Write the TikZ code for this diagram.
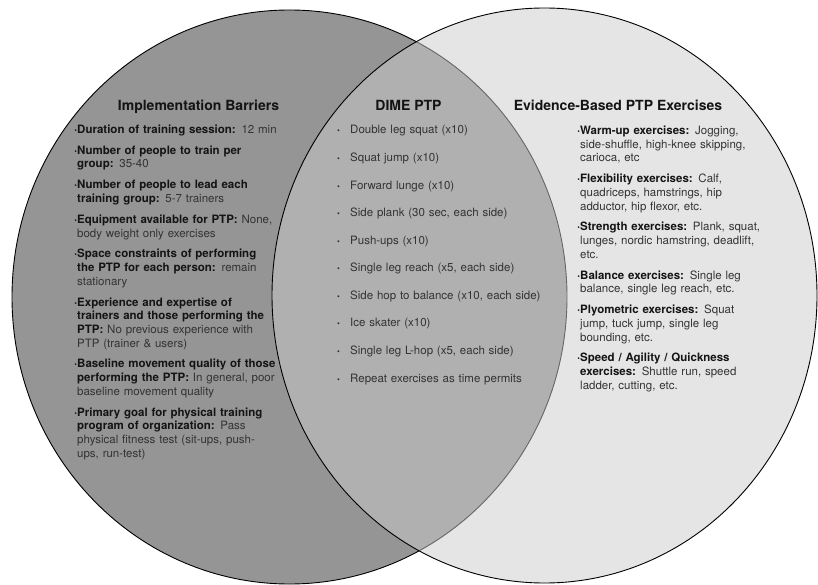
\documentclass[tikz,border=0pt]{standalone}
\usepackage{fontspec}
\setmainfont{TeX Gyre Heros}
\definecolor{leftfill}{gray}{0.585}
\definecolor{rightfill}{gray}{0.8}
\definecolor{boldcol}{HTML}{141414}
\definecolor{regcol}{HTML}{333333}
\newcommand\hd[1]{\textbf{\color{boldcol}#1}}
\newcommand\bul{\llap{\textbf{\color{boldcol}·}}}
\newcommand\mbul{\llap{\makebox[13pt][l]{\fontsize{8}{8}\selectfont •}}}
\tikzset{
  circ/.style={line width=0.9pt, draw=black},
  ttl/.style={inner sep=0pt, anchor=base, font=\fontsize{14}{16}\bfseries\selectfont, text=boldcol},
  itm/.style={inner sep=0pt, anchor=base west, align=left, text width=250pt,
    font=\fontsize{11.5}{13.7}\selectfont, text=regcol},
}
\begin{document}
\begin{tikzpicture}[x=1pt,y=-1pt]
\useasboundingbox (0,0) rectangle (818,585);
\path[circ, fill=leftfill] (289.5,297) ellipse [x radius=277.5, y radius=287];
\path[circ, fill=rightfill, fill opacity=0.5] (544.5,295.5) ellipse [x radius=272.5, y radius=287.5];

\node[ttl] (t1) at (198.5,110.5) {Implementation Barriers};
\node[ttl] (t2) at (408.5,110.5) {DIME PTP};
\node[ttl] (t3) at (618,110.5) {Evidence-Based PTP Exercises};

% left column
\node[itm] (l1) at (77,133.5) {\bul\hd{Duration of training session:} 12 min};
\node[itm] (l2) at (77,154.3) {\bul\hd{Number of people to train per}\\\hd{group:} 35-40};
\node[itm] (l3) at (77,188.8) {\bul\hd{Number of people to lead each}\\\hd{training group:} 5-7 trainers};
\node[itm] (l4) at (77,223.3) {\bul\hd{Equipment available for PTP:} None,\\body weight only exercises};
\node[itm] (l5) at (77,257.8) {\bul\hd{Space constraints of performing}\\\hd{the PTP for each person:} remain\\stationary};
\node[itm] (l6) at (77,306.0) {\bul\hd{Experience and expertise of}\\\hd{trainers and those performing the}\\\hd{PTP:} No previous experience with\\PTP (trainer \& users)};
\node[itm] (l7) at (77,367.9) {\bul\hd{Baseline movement quality of those}\\\hd{performing the PTP:} In general, poor\\baseline movement quality};
\node[itm] (l8) at (77,416.1) {\bul\hd{Primary goal for physical training}\\\hd{program of organization:} Pass\\physical fitness test (sit-ups, push-\\ups, run-test)};

% middle column
\node[itm] (m1) at (350,134.0) {\mbul Double leg squat (x10)};
\node[itm] (m2) at (350,161.6) {\mbul Squat jump (x10)};
\node[itm] (m3) at (350,189.1) {\mbul Forward lunge (x10)};
\node[itm] (m4) at (350,216.7) {\mbul Side plank (30 sec, each side)};
\node[itm] (m5) at (350,244.2) {\mbul Push-ups (x10)};
\node[itm] (m6) at (350,271.8) {\mbul Single leg reach (x5, each side)};
\node[itm] (m7) at (350,299.3) {\mbul Side hop to balance (x10, each side)};
\node[itm] (m8) at (350,326.9) {\mbul Ice skater (x10)};
\node[itm] (m9) at (350,354.4) {\mbul Single leg L-hop (x5, each side)};
\node[itm] (m10) at (350,382.0) {\mbul Repeat exercises as time permits};

% right column
\node[itm] (r1) at (580,134.5) {\bul\hd{Warm-up exercises:} Jogging,\\side-shuffle, high-knee skipping,\\carioca, etc};
\node[itm] (r2) at (580,182.7) {\bul\hd{Flexibility exercises:} Calf,\\quadriceps, hamstrings, hip\\adductor, hip flexor, etc.};
\node[itm] (r3) at (580,230.9) {\bul\hd{Strength exercises:} Plank, squat,\\lunges, nordic hamstring, deadlift,\\etc.};
\node[itm] (r4) at (580,279.1) {\bul\hd{Balance exercises:} Single leg\\balance, single leg reach, etc.};
\node[itm] (r5) at (580,313.6) {\bul\hd{Plyometric exercises:} Squat\\jump, tuck jump, single leg\\bounding, etc.};
\node[itm] (r6) at (580,361.8) {\bul\hd{Speed / Agility / Quickness}\\\hd{exercises:} Shuttle run, speed\\ladder, cutting, etc.};
\end{tikzpicture}
\end{document}
